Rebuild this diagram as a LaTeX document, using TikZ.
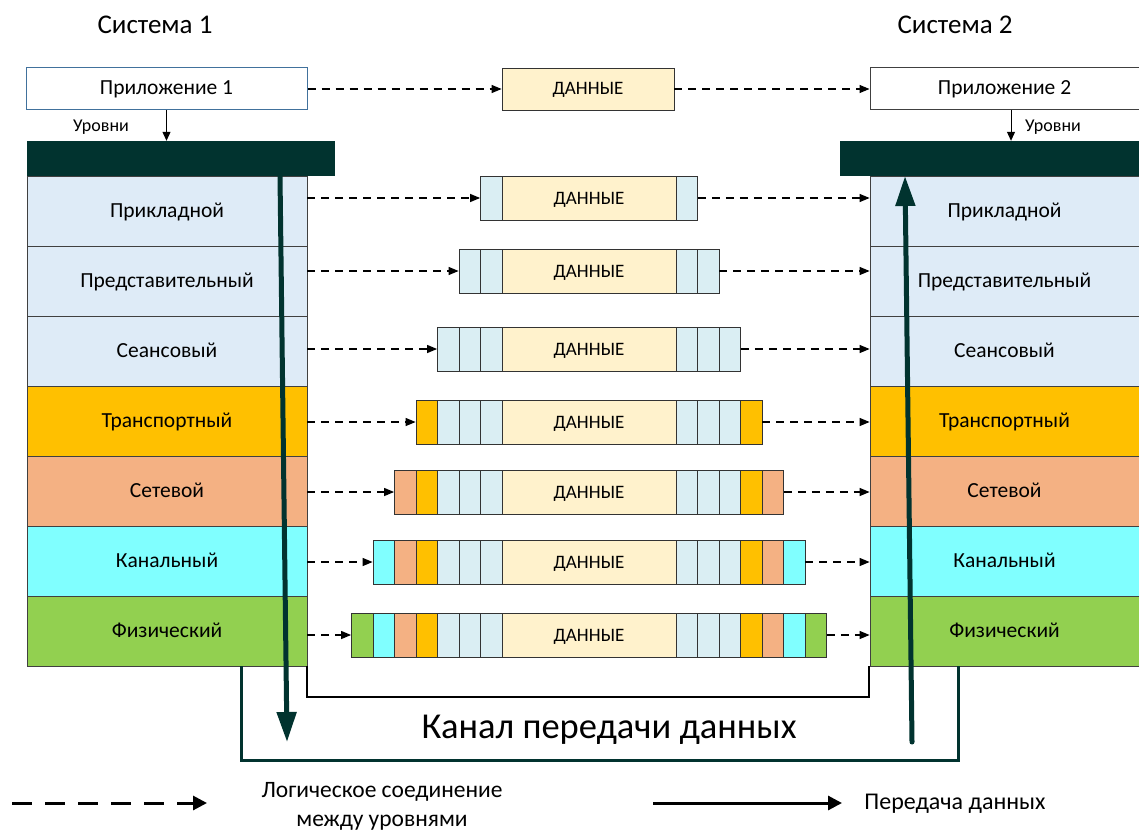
\documentclass[tikz,border=0pt]{standalone}
\usepackage{fontspec}
\setmainfont{Carlito}
\usetikzlibrary{arrows.meta,calc}
\definecolor{layblue}{HTML}{DEEBF7}
\definecolor{cellblue}{HTML}{DAEEF3}
\definecolor{transp}{HTML}{FFC000}
\definecolor{netw}{HTML}{F4B183}
\definecolor{dlink}{HTML}{80FFFF}
\definecolor{phys}{HTML}{92D050}
\definecolor{datay}{HTML}{FFF2CC}
\definecolor{darkteal}{HTML}{01332F}
\definecolor{appblue}{HTML}{41719C}
\tikzset{
  layer/.style={draw=black!75, line width=0.8pt, minimum height=70pt, inner sep=0pt, text height=17pt, text depth=5pt, font=\fontsize{21.5}{24}\selectfont},
  bar/.style={fill=darkteal, draw=none, minimum height=35pt, inner sep=0pt},
  appbox/.style={draw, line width=1pt, fill=white, minimum height=42pt, inner sep=0pt, font=\fontsize{21.5}{24}\selectfont},
  cell/.style={draw=black!80, line width=0.8pt, minimum width=21.5pt, minimum height=44pt, inner sep=0pt},
  datacell/.style={draw=black!80, line width=0.8pt, fill=datay, minimum width=174pt, minimum height=44pt, inner sep=0pt, text height=14pt, text depth=2pt, font=\fontsize{19}{21}\selectfont},
  dasharrow/.style={line width=1.2pt, dash pattern=on 8pt off 6pt, -{Triangle[length=10pt,width=8pt]}},
  smallarrow/.style={line width=1pt, -{Triangle[length=9pt,width=8pt]}},
  thickarrow/.style={line width=5pt, draw=darkteal, -{Triangle[length=30pt,width=19pt]}},
  lbl/.style={inner sep=0pt}
}
\begin{document}
\begin{tikzpicture}[x=1pt,y=-1pt]
\useasboundingbox[fill=white] (0,0) rectangle (1139,832);

% titles
\node[lbl, font=\fontsize{27}{30}\selectfont] (S1) at (155,25) {Система 1};
\node[lbl, font=\fontsize{27}{30}\selectfont] (S2) at (955,25) {Система 2};

% application boxes
\node[appbox, draw=appblue, minimum width=281pt] (A1) at (166.5,89) {Приложение 1};
\node[appbox, draw=black!75, minimum width=269pt] (A2) at (1004.5,89) {Приложение 2};
\node[datacell, minimum height=42pt, minimum width=172pt] (D0) at (588,89) {ДАННЫЕ};

% bars
\node[bar, minimum width=308pt] (B1) at (181,158.5) {};
\node[bar, minimum width=299pt] (B2) at (989.5,158.5) {};

% Уровни
\draw[smallarrow] (A1.south) -- (A1.south |- B1.north);
\draw[smallarrow] ([xshift=6.5pt]A2.south) -- ([xshift=6.5pt]A2.south |- B2.north);
\node[lbl, font=\fontsize{18}{20}\selectfont] (U1) at (101,127) {Уровни};
\node[lbl, font=\fontsize{18}{20}\selectfont] (U2) at (1053,127) {Уровни};

% layers
\foreach \k/\nm/\c in {1/Прикладной/layblue,2/Представительный/layblue,3/Сеансовый/layblue,4/Транспортный/transp,5/Сетевой/netw,6/Канальный/dlink,7/Физический/phys}{
  \node[layer, fill=\c, minimum width=280pt] (L\k) at (167,{211+(\k-1)*70}) {\nm};
  \node[layer, fill=\c, minimum width=269pt] (R\k) at (1004.5,{211+(\k-1)*70}) {\nm};
}

% top dashed arrows
\draw[dasharrow] (A1.east) -- (D0.west);
\draw[dasharrow] (D0.east) -- (A2.west);

% packets
\foreach \k/\yy in {1/198,2/271,3/349,4/422,5/492,6/562,7/635}{
  \node[datacell] (D\k) at (589,\yy) {ДАННЫЕ};
  \foreach \i/\c in {1/cellblue,2/cellblue,3/cellblue,4/transp,5/netw,6/dlink,7/phys}{
    \ifnum\i>\k\relax\else
      \node[cell, fill=\c] (P\k l\i) at ({502-(\i-0.5)*21.5},\yy) {};
      \node[cell, fill=\c] (P\k r\i) at ({676+(\i-0.5)*21.5},\yy) {};
    \fi
  }
  \draw[dasharrow] (L\k.east |- D\k.center) -- (P\k l\k.west);
  \draw[dasharrow] (P\k r\k.east) -- (R\k.west |- D\k.center);
}

% channel lines
\coordinate (c1) at (307,666);
\coordinate (c2) at (307,697);
\coordinate (c3) at (869,697);
\coordinate (c4) at (869,666);
\draw[line width=1.2pt, black] (c1) -- (c2) -- (c3) -- (c4);
\coordinate (g1) at (241,666);
\coordinate (g2) at (241,760);
\coordinate (g3) at (958,760);
\coordinate (g4) at (958,666);
\draw[line width=3pt, darkteal] (g1) -- (g2) -- (g3) -- (g4);

% thick transfer arrows
\coordinate (t1) at (280,176);
\coordinate (t2) at (287,742);
\coordinate (t3) at (912,742);
\coordinate (t4) at (905,176);
\draw[thickarrow] (t1) -- (t2);
\draw[thickarrow, line cap=round] (t3) -- (t4);

\node[lbl, font=\fontsize{36.5}{40}\selectfont] (K) at (609,730) {Канал передачи данных};

% legend
\coordinate (lg1) at (12,803);
\coordinate (lg2) at (207,803);
\draw[line width=3pt, dash pattern=on 20pt off 13pt, -{Triangle[length=14pt,width=14pt]}] (lg1) -- (lg2);
\node[lbl, align=center, font=\fontsize{23.5}{29}\selectfont] (LG1) at (382,806) {Логическое соединение\\между уровнями};
\coordinate (lg3) at (653,803);
\coordinate (lg4) at (842,803);
\draw[line width=3pt, -{Triangle[length=14pt,width=14pt]}] (lg3) -- (lg4);
\node[lbl, font=\fontsize{24}{26}\selectfont] (LG2) at (955,804) {Передача данных};
\end{tikzpicture}
\end{document}
